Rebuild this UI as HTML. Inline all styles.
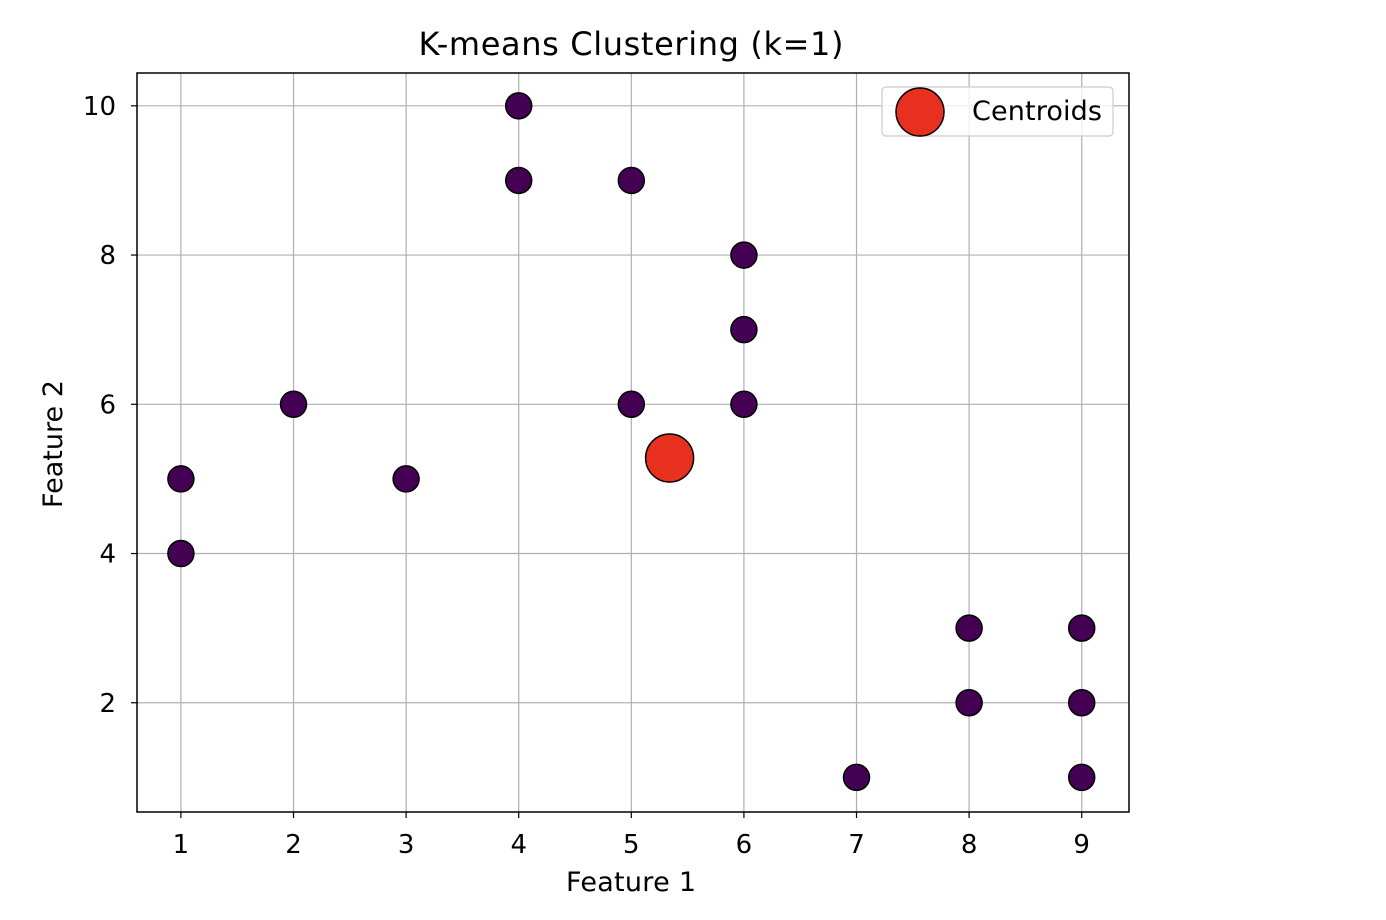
<!DOCTYPE html>
<html><head><meta charset="utf-8"><style>
body{margin:0;background:#fff;}
svg{display:block;font-family:"DejaVu Sans","Liberation Sans",sans-serif;}
</style></head><body>
<svg id="chart" width="1386" height="920"></svg>
<script>
const xs=[1,1,2,3,4,4,5,5,6,6,6,7,8,8,9,9,9];
const ys=[5,4,6,5,10,9,9,6,8,7,6,1,3,2,3,2,1];
const centroidX=[5.34];
const centroidY=[5.28];
const xTicks=[1,2,3,4,5,6,7,8,9];
const yTicks=[2,4,6,8,10];
const L=137,R=1129,T=73,B=812;
const xMin=0.61,xMax=9.42,yMin=0.536,yMax=10.44;
const sx=v=>L+(v-xMin)/(xMax-xMin)*(R-L);
const sy=v=>B-(v-yMin)/(yMax-yMin)*(B-T);
const svg=document.getElementById('chart');
const NS='http://www.w3.org/2000/svg';
function mk(t,a,p){const e=document.createElementNS(NS,t);for(const k in a)e.setAttribute(k,a[k]);(p||svg).appendChild(e);return e;}
xTicks.forEach(v=>{
 const g=mk('line',{x1:sx(v),x2:sx(v),y1:T,y2:B,stroke:'#b0b0b0','stroke-width':1.2});
 
 
 mk('line',{x1:sx(v),x2:sx(v),y1:B,y2:B+6,stroke:'#000','stroke-width':1.2});
 const t=mk('text',{x:sx(v),y:B+41,'text-anchor':'middle','font-size':26,fill:'#000'});t.textContent=v;
 
 
});
yTicks.forEach(v=>{
 const g=mk('line',{x1:L,x2:R,y1:sy(v),y2:sy(v),stroke:'#b0b0b0','stroke-width':1.2});
 
 
 mk('line',{x1:L-6,x2:L,y1:sy(v),y2:sy(v),stroke:'#000','stroke-width':1.2});
 const t=mk('text',{x:L-21,y:sy(v)+9,'text-anchor':'end','font-size':26,fill:'#000'});t.textContent=v;
 
 
});
xs.forEach((x,i)=>{
 const c=mk('circle',{cx:sx(x),cy:sy(ys[i]),r:13,fill:'#440154',stroke:'#000','stroke-width':1.5});
 
 
});
centroidX.forEach((x,i)=>{
 const c=mk('circle',{cx:sx(x),cy:sy(centroidY[i]),r:24,fill:'#e8301f',stroke:'#000','stroke-width':1.5});
 
 
});
const fr=mk('rect',{x:L,y:T,width:R-L,height:B-T,fill:'none',stroke:'#000','stroke-width':1.5});


const lg=mk('g',{});


mk('rect',{x:882,y:87,width:231,height:49,rx:4,fill:'#fff','fill-opacity':0.8,stroke:'#cccccc','stroke-width':1.2},lg);
mk('circle',{cx:920,cy:112,r:24,fill:'#e8301f',stroke:'#000','stroke-width':1.5},lg);
const lt=mk('text',{x:972,y:120,'font-size':27,fill:'#000','textLength':130},lg);lt.textContent='Centroids';


const tt=mk('text',{x:631,y:55,'text-anchor':'middle','font-size':32,fill:'#000','textLength':425},);tt.textContent='K-means Clustering (k=1)';


const xl=mk('text',{x:631,y:891,'text-anchor':'middle','font-size':27,fill:'#000','textLength':130});xl.textContent='Feature 1';


const yl=mk('text',{x:0,y:0,'text-anchor':'middle','font-size':27,fill:'#000','textLength':128,transform:'translate(62,444) rotate(-90)'});yl.textContent='Feature 2';


</script>
</body></html>
